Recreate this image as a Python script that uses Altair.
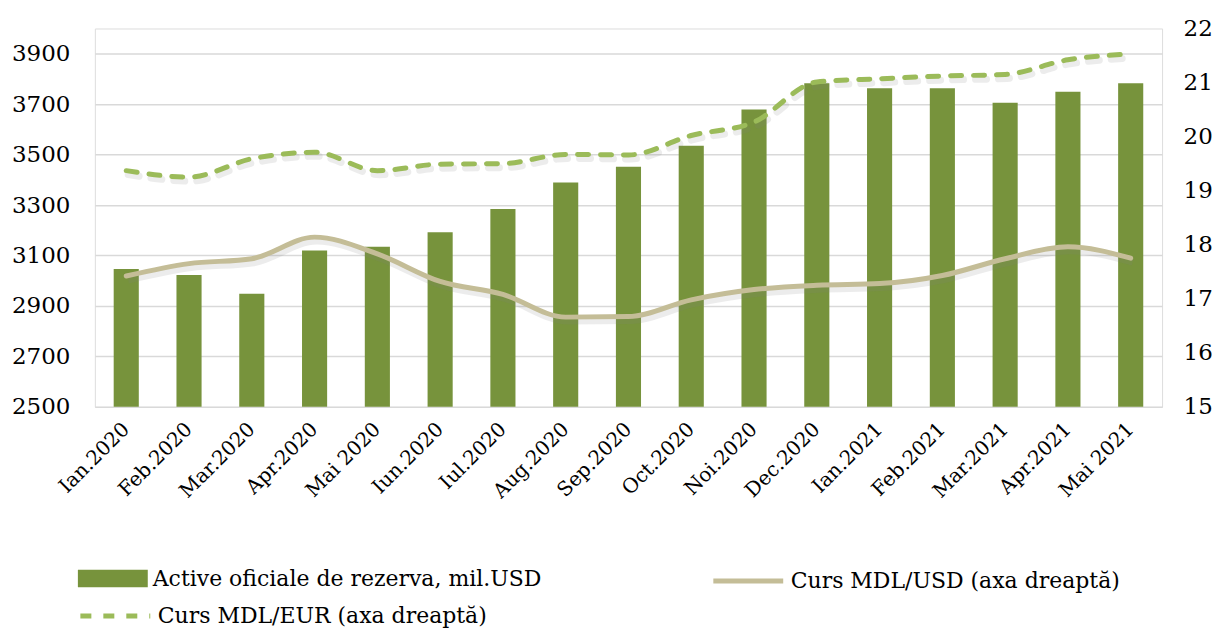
import altair as alt
import pandas as pd

months = ["Ian.2020", "Feb.2020", "Mar.2020", "Apr.2020", "Mai 2020", "Iun.2020",
          "Iul.2020", "Aug.2020", "Sep.2020", "Oct.2020", "Noi.2020", "Dec.2020",
          "Ian.2021", "Feb.2021", "Mar.2021", "Apr.2021", "Mai 2021"]
active = [3047, 3023, 2948, 3120, 3135, 3192, 3284, 3389, 3452, 3535, 3679, 3783,
          3763, 3763, 3706, 3749, 3783]
usd = [17.42, 17.65, 17.74, 18.14, 17.83, 17.32, 17.08, 16.66, 16.67, 16.98, 17.17,
       17.25, 17.28, 17.43, 17.74, 17.96, 17.75]
eur = [19.37, 19.25, 19.59, 19.71, 19.37, 19.49, 19.50, 19.67, 19.66, 20.02, 20.27,
       21.01, 21.07, 21.12, 21.15, 21.42, 21.53]

left_ticks = [2500, 2700, 2900, 3100, 3300, 3500, 3700, 3900]
right_ticks = [15, 16, 17, 18, 19, 20, 21, 22]

NAME_BAR = "Active oficiale de rezerva, mil.USD"
NAME_USD = "Curs MDL/USD (axa dreaptă)"
NAME_EUR = "Curs MDL/EUR (axa dreaptă)"

df = pd.DataFrame({"month": months, "active": active, "usd": usd, "eur": eur})

FONT = "DejaVu Serif"
C_BAR = "#77933C"
C_USD = "#C4BD97"
C_EUR = "#9BBB59"
LEG_FS = 22

xenc = alt.X("month:N", sort=months, title=None,
             scale=alt.Scale(paddingInner=0.6, paddingOuter=0.3),
             axis=alt.Axis(labelAngle=-45, labelAlign="right", labelBaseline="middle",
                           labelPadding=19, labelFont=FONT, labelFontSize=20,
                           labelColor="#000000", ticks=False, domain=False, grid=False,
                           labelOverlap=False))

right_axis = alt.Axis(orient="right", values=right_ticks, grid=False, domain=False,
                      ticks=False, labelFont=FONT, labelFontSize=23, labelColor="#000000",
                      labelPadding=21, title=None, format="d")
right_scale = alt.Scale(domain=[15, 22], nice=False, zero=False)

base = alt.Chart(df)

bars = base.mark_bar().transform_calculate(s_bar=f"'{NAME_BAR}'").encode(
    x=xenc,
    y=alt.Y("active:Q", title=None,
            scale=alt.Scale(domain=[2500, 4000], nice=False, zero=False, clamp=True),
            axis=alt.Axis(values=left_ticks, grid=True, gridColor="#D9D9D9", gridWidth=1.5,
                          domain=False, ticks=False, labelFont=FONT, labelFontSize=23,
                          labelColor="#000000", labelPadding=25, format="d")),
    fill=alt.Fill("s_bar:N", scale=alt.Scale(range=[C_BAR]),
                  legend=alt.Legend(title=None, orient="none", legendX=-17, legendY=516,
                                    symbolType="M-1,-0.25L1,-0.25L1,0.25L-1,0.25Z",
                                    symbolSize=4900, symbolStrokeWidth=0, symbolOpacity=1,
                                    labelFont=FONT, labelFontSize=LEG_FS, labelColor="#000000",
                                    labelOffset=5, labelLimit=600)),
)

shadow_kw = dict(color="#7f7f7f", opacity=0.15, strokeWidth=7, interpolate="monotone",
                 xOffset=2, yOffset=4)
usd_shadow = base.mark_line(**shadow_kw).encode(
    x=xenc, y=alt.Y("usd:Q", scale=right_scale, axis=right_axis))
eur_shadow = base.mark_line(strokeDash=[11, 12], strokeCap="round", **shadow_kw).encode(
    x=xenc, y=alt.Y("eur:Q", scale=right_scale, axis=right_axis))

usd_line = base.mark_line(strokeWidth=5, interpolate="monotone", strokeCap="round").transform_calculate(
    s_usd=f"'{NAME_USD}'").encode(
    x=xenc, y=alt.Y("usd:Q", scale=right_scale, axis=right_axis),
    stroke=alt.Stroke("s_usd:N", scale=alt.Scale(range=[C_USD]),
                      legend=alt.Legend(title=None, orient="none", legendX=617, legendY=516,
                                        symbolType="stroke", symbolSize=4900,
                                        symbolStrokeWidth=5, labelFont=FONT, labelFontSize=LEG_FS,
                                        labelColor="#000000", labelOffset=5, labelLimit=600)),
)

eur_line = base.mark_line(strokeWidth=5, interpolate="monotone", color=C_EUR,
                          strokeCap="round").transform_calculate(
    s_eur=f"'{NAME_EUR}'").encode(
    x=xenc, y=alt.Y("eur:Q", scale=right_scale, axis=right_axis),
    strokeDash=alt.StrokeDash("s_eur:N", scale=alt.Scale(range=[[11, 12]]),
                              legend=alt.Legend(title=None, orient="none", legendX=-17,
                                                legendY=551, symbolType="stroke",
                                                symbolSize=4900, symbolStrokeWidth=5,
                                                symbolStrokeColor=C_EUR,
                                                labelFont=FONT, labelFontSize=LEG_FS,
                                                labelColor="#000000", labelOffset=5,
                                                labelLimit=600)),
)

lines = alt.layer(usd_shadow, eur_shadow, usd_line, eur_line)

chart = alt.layer(bars, lines).resolve_scale(y="independent").properties(
    width=1069, height=379,
    autosize=alt.AutoSizeParams(type="none"),
    padding={"left": 87, "top": 20, "right": 50, "bottom": 224},
).configure_view(strokeWidth=0, stroke="transparent").configure_axis(domain=False).configure(
    background="#ffffff")

chart.save("out.html", embed_options={"renderer": "svg", "actions": False})
